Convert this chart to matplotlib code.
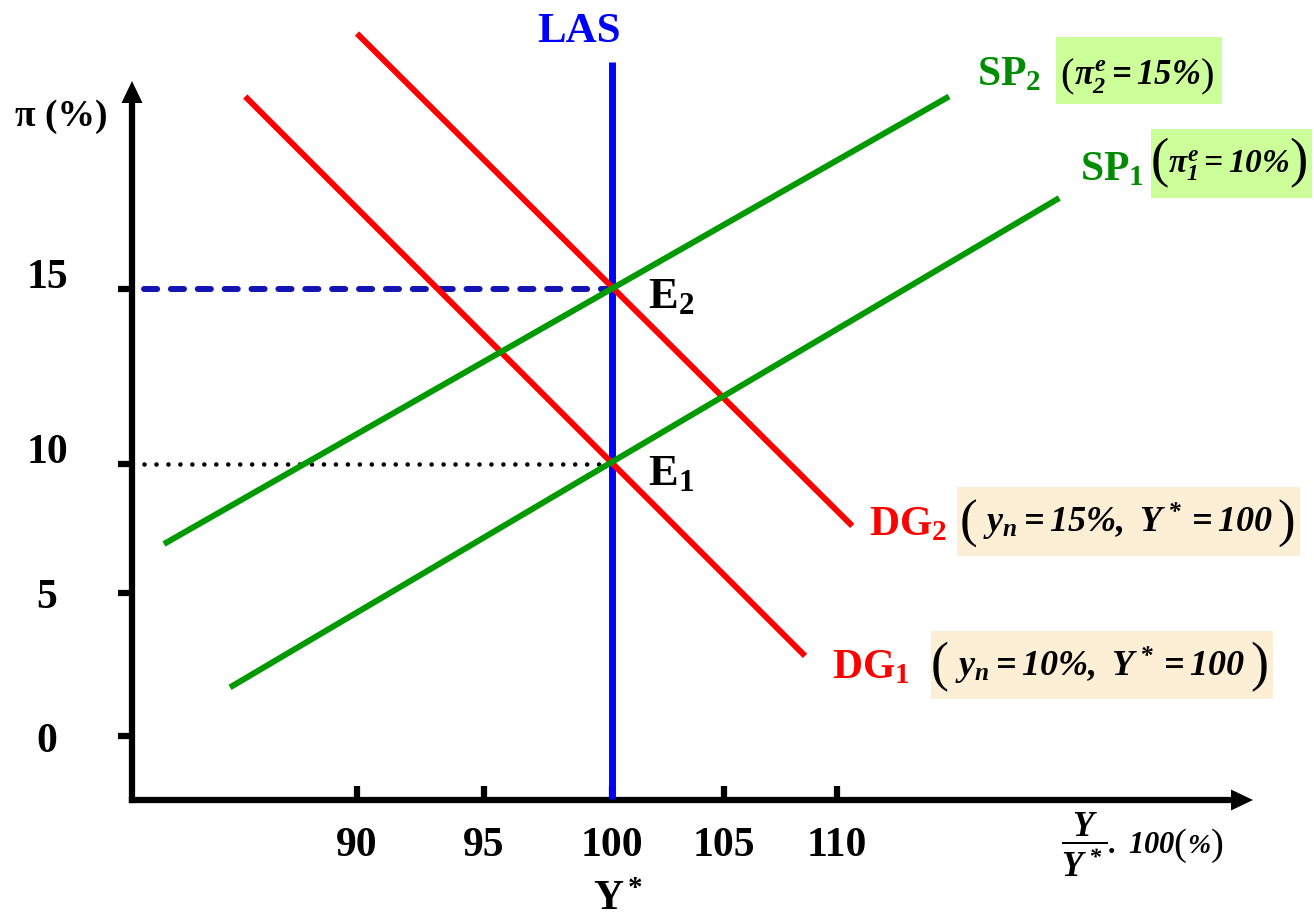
import numpy as np
import matplotlib
matplotlib.use('Agg')
import matplotlib.pyplot as plt
from matplotlib.patches import Rectangle, Polygon

# ---------------- data ----------------
x_ticks = [90, 95, 100, 105, 110]
x_tick_labels = ['90', '95', '100', '105', '110']
y_ticks = [0, 5, 10, 15]
y_tick_labels = ['0', '5', '10', '15']

Y_STAR = 100           # potential output (LAS)
PI_E1, PI_E2 = 10, 15  # equilibrium inflation E1, E2

dg1_x = [85.6, 108.6]
dg1_y = [20.5, 2.8]
dg2_x = [90.0, 110.7]
dg2_y = [22.3, 7.6]
sp1_x = [85.0, 119.9]
sp1_y = [1.7, 17.6]
sp2_x = [82.4, 115.0]
sp2_y = [6.9, 20.5]
las_y = [-2.2, 21.5]
guide_x0 = 81.6

# ---------------- layout (pixels) ----------------
W, H = 1314, 920
AX_L, AX_R, AX_B, AX_T = 132, 1240, 801, 95
X_TICK_PX = [357, 484, 612, 724, 836.5]
Y_TICK_PX = [737, 594, 465, 290]
Y_LABEL_DY = [-5.5, -3.5, 12, 12.5]   # label offsets (pixels, up)

plt.rcParams['font.family'] = ['Liberation Serif', 'DejaVu Serif']
plt.rcParams['font.weight'] = 'bold'
plt.rcParams['mathtext.fontset'] = 'custom'
plt.rcParams['mathtext.rm'] = 'Liberation Serif:italic:bold'
plt.rcParams['mathtext.it'] = 'Liberation Serif:italic:bold'
plt.rcParams['mathtext.bf'] = 'Liberation Serif:bold'

RED = '#ff0000'
GREEN = '#009a00'
GREEN_TXT = '#008c00'
BLUE = '#0000ff'
DKBLUE = '#1414b4'
GREEN_BOX = '#ccff99'
BEIGE_BOX = '#fcefd6'


def piecewise(xs, ys):
    xs = np.asarray(xs, float)
    ys = np.asarray(ys, float)
    s0 = (ys[1] - ys[0]) / (xs[1] - xs[0])
    s1 = (ys[-1] - ys[-2]) / (xs[-1] - xs[-2])

    def f(v):
        v = np.asarray(v, float)
        out = np.interp(v, xs, ys)
        out = np.where(v < xs[0], ys[0] + (v - xs[0]) * s0, out)
        out = np.where(v > xs[-1], ys[-1] + (v - xs[-1]) * s1, out)
        return out
    return f


fig = plt.figure(figsize=(W / 100, H / 100), dpi=100)
ax = fig.add_axes([AX_L / W, 1 - AX_B / H, (AX_R - AX_L) / W, (AX_B - AX_T) / H])

fx = (np.array(X_TICK_PX) - AX_L) / (AX_R - AX_L)
fy = (AX_B - np.array(Y_TICK_PX)) / (AX_B - AX_T)
x_fwd, x_inv = piecewise(x_ticks, fx), piecewise(fx, x_ticks)
y_fwd, y_inv = piecewise(y_ticks, fy), piecewise(fy, y_ticks)
ax.set_xscale('function', functions=(x_fwd, x_inv))
ax.set_yscale('function', functions=(y_fwd, y_inv))
ax.set_xlim(float(x_inv(0.0)), float(x_inv(1.0)))
ax.set_ylim(float(y_inv(0.0)), float(y_inv(1.0)))

# guides
ax.plot([guide_x0, Y_STAR], [PI_E2, PI_E2], color=DKBLUE, lw=4.3,
        dashes=[2.2, 2.3], dash_capstyle='round', zorder=2)
ax.plot([guide_x0, Y_STAR], [PI_E1, PI_E1], color='black', lw=3.3,
        dashes=[0.01, 2.6], dash_capstyle='round', zorder=2)

# curves
ax.plot([Y_STAR, Y_STAR], las_y, color=BLUE, lw=5.0, clip_on=False, zorder=3,
        solid_capstyle='butt')
ax.plot(dg1_x, dg1_y, color=RED, lw=4.3, clip_on=False, zorder=4, solid_capstyle='butt')
ax.plot(dg2_x, dg2_y, color=RED, lw=4.3, clip_on=False, zorder=4, solid_capstyle='butt')
ax.plot(sp1_x, sp1_y, color=GREEN, lw=4.3, clip_on=False, zorder=5, solid_capstyle='butt')
ax.plot(sp2_x, sp2_y, color=GREEN, lw=4.3, clip_on=False, zorder=5, solid_capstyle='butt')

# axes styling
for s in ['top', 'right']:
    ax.spines[s].set_visible(False)
for s in ['left', 'bottom']:
    ax.spines[s].set_linewidth(4.5)
    ax.spines[s].set_capstyle('projecting')
ax.minorticks_off()
ax.set_xticks(x_ticks, x_tick_labels)
ax.set_yticks(y_ticks)
ax.tick_params(axis='x', direction='in', length=10, width=4.5, pad=19, labelsize=30)
ax.tick_params(axis='y', direction='out', length=10, width=4.5, labelleft=False)
for v, lab, dy in zip(y_ticks, y_tick_labels, Y_LABEL_DY):
    ax.annotate(lab, xy=(0, v), xycoords=('axes fraction', 'data'),
                xytext=(-85, dy), textcoords='offset pixels',
                ha='center', va='center', fontsize=30, annotation_clip=False)
ax.set_facecolor('none')


def px(x, y):
    return (x / W, 1 - y / H)


# arrow heads
fig.add_artist(Polygon([px(132, 82), px(121.5, 104), px(142.5, 104)], closed=True,
                       transform=fig.transFigure, fc='black', ec='none'))
fig.add_artist(Polygon([px(1253, 801), px(1231, 790.5), px(1231, 811.5)], closed=True,
                       transform=fig.transFigure, fc='black', ec='none'))


def box(x0, y0, x1, y1, color):
    fig.add_artist(Rectangle(px(x0, y1), (x1 - x0) / W, (y1 - y0) / H,
                             transform=fig.transFigure, fc=color, ec='none', zorder=0))


box(1056, 38, 1222, 105, GREEN_BOX)
box(1151, 130, 1312, 199, GREEN_BOX)
box(957, 488, 1300, 557, BEIGE_BOX)
box(931, 632, 1273, 700, BEIGE_BOX)


def ftext(x, y, s, **kw):
    fig.text(x / W, 1 - y / H, s, **kw)


def parens(xl, xr, top, bottom):
    h = bottom - top
    em = h / 0.91
    fs = em * 0.72
    base = bottom - 0.216 * em
    ftext(xl, base, '(', fontsize=fs, fontweight='normal', ha='center', va='baseline',
          color='black')
    ftext(xr, base, ')', fontsize=fs, fontweight='normal', ha='center', va='baseline',
          color='black')


ftext(537, 42, 'LAS', color=BLUE, fontsize=31, ha='left', va='baseline')
ftext(15, 126, 'π (%)', color='black', fontsize=27, ha='left', va='baseline')

ftext(977, 85, r'$\mathbf{SP_2}$', color=GREEN_TXT, fontsize=30, ha='left', va='baseline')
ftext(1080, 180, r'$\mathbf{SP_1}$', color=GREEN_TXT, fontsize=30, ha='left', va='baseline')
ftext(869, 535, r'$\mathbf{DG_2}$', color=RED, fontsize=30, ha='left', va='baseline')
ftext(832, 678, r'$\mathbf{DG_1}$', color=RED, fontsize=30, ha='left', va='baseline')
ftext(648, 308, r'$\mathbf{E_2}$', color='black', fontsize=32, ha='left', va='baseline')
ftext(648, 485, r'$\mathbf{E_1}$', color='black', fontsize=32, ha='left', va='baseline')

# box contents
parens(1067, 1208, 58, 95)
ftext(1137, 85, r'$\pi_2^e{=}15\%$', color='black', fontsize=25, ha='center', va='baseline')
parens(1160, 1298, 138, 188)
ftext(1229, 173, r'$\pi_1^e{=}10\%$', color='black', fontsize=24, ha='center', va='baseline')
parens(968, 1286, 500, 548)
ftext(1128, 532, r'$y_n = 15\%,\ Y^* = 100$', color='black', fontsize=26,
      ha='center', va='baseline')
parens(940, 1259, 643, 692)
ftext(1100, 676, r'$y_n = 10\%,\ Y^* = 100$', color='black', fontsize=26,
      ha='center', va='baseline')

# x-axis label
ftext(1084, 845, r'$\dfrac{Y}{Y^*}$', color='black', fontsize=25, ha='center', va='center')
ftext(1108, 853, r'$.\ 100$', color='black', fontsize=22, ha='left', va='baseline')
parens(1179.5, 1217, 828, 863)
ftext(1198.5, 853, r'$\%$', color='black', fontsize=20, ha='center', va='baseline')

ftext(618, 900, r'$\mathbf{Y^*}$', color='black', fontsize=30, ha='center', va='center')

fig.savefig('out.png', dpi=100)
